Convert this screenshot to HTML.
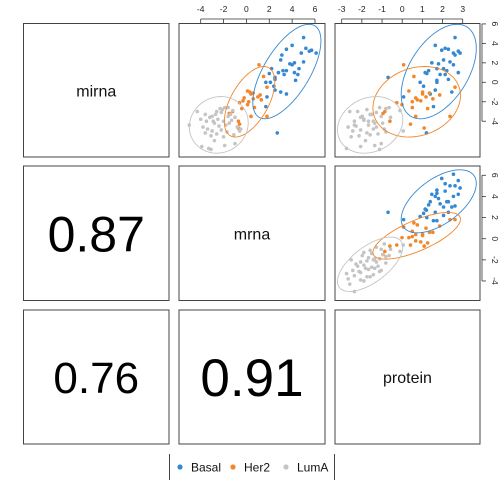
<!DOCTYPE html>
<html><head><meta charset="utf-8"><style>
body{margin:0;background:#fff}
svg{display:block;font-family:"Liberation Sans",Arial,sans-serif}
</style></head><body>
<svg id="c" width="504" height="504" viewBox="0 0 504 504"></svg>
<script>
const groups=["Basal","Her2","LumA"];
const colors=["#3589d2","#f2862a","#c4c4c4"];
const correlations=["0.87","0.76","0.91"];
const varNames=["mirna","mrna","protein"];
const mrnaTicks=[-4,-2,0,2,4,6];
const proteinTicks=[-3,-2,-1,0,1,2,3];
const yTicks=[-4,-2,0,2,4,6];
const basalMrna=[2.7,5,4,3.5,5.2,5.5,4.8,6.1,5.7,3,4.2,4.0,3.8,5,4.6,4.2,4.5,3.2,3.5,2.8,3.3,2.2,2.0,1.7,2.1,2.5,3,3.5,2.4,1.7,2.5,2.5,3.1,4.3,1.8];
const basalMirna=[-5.2,4.6,3.8,3.4,3.5,3.2,3.0,3.0,3.3,2.3,2.0,1.8,1.9,2.1,1.4,1.0,0.8,1.2,1.2,1.0,0.8,1.4,0.9,0.0,0.0,-0.8,-1.0,-1.2,-0.4,-2.5,0.5,0.3,2.8,0.2,-1.5];
const basalProtein=[1.2,2.62,1.64,2.29,2.13,2.78,2.87,2.54,1.96,2.05,1.47,2.54,1.8,2.37,1.72,2.78,2.13,1.31,2.21,1.14,1.88,2.05,1.22,1.72,0.89,1.64,2.46,1.39,1.06,1.55,-0.7,2.29,2.62,1.72,0.07];
const her2Mrna=[1.1,1.5,0.6,0.1,0.4,0.6,0.2,-0.6,-0.3,1.2,1.3,1.0,0.1,1.8,-1.2,0.4,-0.7,-0.7,-0.6,-0.4,1.8,0.7,-1.5,0.3,-0.2];
const her2Mirna=[1.8,0.6,-1.1,-0.9,-1.2,-1.7,-2.0,-2.1,-1.9,-1.3,-1.8,-1.5,-2.3,-3.5,-3.0,-3.5,-4.0,-4.7,-4.3,-2.7,-0.5,-2.6,-3.2,-1.0,-1.6];
const her2Protein=[0.07,0.58,1.35,0.33,1.01,1.52,0.5,-0.27,0.92,1.86,0.75,1.18,-0.01,2.37,-0.86,0.67,-0.61,1.09,0.41,1.26,2.62,0.5,-0.95,1.01,0.67];
const lumaMrna=[-5,-4.3,-3.6,-3.2,-3.0,-3.5,-2.8,-2.5,-2.3,-2.1,-1.9,-1.6,-1.4,-1.2,-2.6,-3.8,-3.4,-3.0,-2.6,-2.2,-1.8,-1.5,-1.3,-1.0,-0.8,-0.6,-0.5,-1.1,-2.0,-2.8,-3.9,-3.3,-3.1,-1.9,-1.0,-3.6,-2.4,-2.0,-1.6,-2.7,-3.1,-1.7,-4.0,-2.9,-2.2];
const lumaMirna=[-4.4,-3.0,-3.3,-3.6,-3.5,-4.0,-4.2,-3.8,-2.7,-2.8,-2.6,-2.6,-3.3,-2.9,-3.0,-4.6,-4.8,-5.0,-5.3,-4.9,-4.4,-4.2,-3.9,-3.6,-4.6,-5.0,-4.8,-5.4,-5.6,-6.0,-6.6,-6.8,-6.9,-6.5,-6.3,-5.2,-4.5,-4.0,-3.5,-3.3,-5.5,-5.1,-3.8,-4.0,-3.1];
const lumaProtein=[-2.37,-2.6,-1.59,-2.06,-1.04,-2.37,-1.36,-1.9,-0.81,-1.75,-1.12,-0.65,-1.51,-0.11,-2.21,-2.68,-1.43,-2.45,-1.2,-2.06,-1.67,-0.97,-1.9,-0.58,-1.28,0.05,-0.89,-1.59,-2.53,-1.82,-2.06,-2.76,-1.12,-1.36,-1.04,-1.75,-2.29,-1.43,-1.98,-1.51,-2.14,-0.81,-1.9,-1.67,-1.28];
const groupVars=[
 {mrna:basalMrna,mirna:basalMirna,protein:basalProtein},
 {mrna:her2Mrna,mirna:her2Mirna,protein:her2Protein},
 {mrna:lumaMrna,mirna:lumaMirna,protein:lumaProtein}];

const NS="http://www.w3.org/2000/svg";
const svg=document.getElementById('c');
function mk(tag,attrs,parent){const e=document.createElementNS(NS,tag);for(const k in attrs)e.setAttribute(k,attrs[k]);(parent||svg).appendChild(e);return e;}
const colX=[[23.5,169],[179,325],[335,480]];
const rowY=[[23.5,157],[166,300.5],[310,444]];
const xMrna=v=>200.7+(v+4)*11.43;
const xProt=v=>402.2+v*20.17;
const yMirnaR1=v=>82.3-v*9.73;
const yMrnaR2=v=>238.7-v*10.57;

for(let r=0;r<3;r++)for(let c=0;c<3;c++){
  const f=mk('rect',{x:colX[c][0],y:rowY[r][0],width:colX[c][1]-colX[c][0],height:rowY[r][1]-rowY[r][0],fill:'none',stroke:'#444','stroke-width':1});
  
  
}
for(let i=0;i<3;i++){
  const t=mk('text',{x:(colX[i][0]+colX[i][1])/2,y:(rowY[i][0]+rowY[i][1])/2+6,'text-anchor':'middle','font-size':16,fill:'#111'});
  t.textContent=varNames[i];
  
  
}
const corrPos=[[1,0,50],[2,0,44],[2,1,53]];
corrPos.forEach((p,i)=>{
  const t=mk('text',{x:(colX[p[1]][0]+colX[p[1]][1])/2,y:(rowY[p[0]][0]+rowY[p[0]][1])/2+p[2]*0.36,'text-anchor':'middle','font-size':p[2],fill:'#000'});
  t.textContent=correlations[i];
  
  
});

const panels=[
 {xv:'mrna',yv:'mirna',sx:xMrna,sy:yMirnaR1,c:1,r:0,name:'mrna-vs-mirna'},
 {xv:'protein',yv:'mirna',sx:xProt,sy:yMirnaR1,c:2,r:0,name:'protein-vs-mirna'},
 {xv:'protein',yv:'mrna',sx:xProt,sy:yMrnaR2,c:2,r:1,name:'protein-vs-mrna'}
];
panels.forEach((P,pi)=>{
  const cp=mk('clipPath',{id:'cp'+pi});
  mk('rect',{x:colX[P.c][0],y:rowY[P.r][0],width:colX[P.c][1]-colX[P.c][0],height:rowY[P.r][1]-rowY[P.r][0]},cp);
  const g=mk('g',{'clip-path':'url(#cp'+pi+')'});
  
  
  groupVars.forEach((d,gi)=>{
    const xs=d[P.xv],ys=d[P.yv];
    xs.forEach((xv,k)=>{
      const pt=mk('circle',{cx:P.sx(xv),cy:P.sy(ys[k]),r:1.8,fill:colors[gi]},g);
      
      
    });
  });
  groupVars.forEach((d,gi)=>{
    const xs=d[P.xv],ys=d[P.yv],n=xs.length;let mx=0,my=0;
    for(let k=0;k<n;k++){mx+=xs[k];my+=ys[k];}mx/=n;my/=n;
    let sxx=0,syy=0,sxy=0;
    for(let k=0;k<n;k++){const a=xs[k]-mx,b=ys[k]-my;sxx+=a*a;syy+=b*b;sxy+=a*b;}
    sxx/=n-1;syy/=n-1;sxy/=n-1;
    const l11=Math.sqrt(sxx),l21=sxy/l11,l22=Math.sqrt(Math.max(syy-l21*l21,1e-9));
    const k=Math.sqrt(5.991);let dstr='';
    for(let i=0;i<=72;i++){const t=i/72*2*Math.PI,u=Math.cos(t)*k,v=Math.sin(t)*k;
      const x=mx+l11*u,y=my+l21*u+l22*v;
      dstr+=(i?'L':'M')+P.sx(x).toFixed(2)+','+P.sy(y).toFixed(2);}
    const e=mk('path',{d:dstr,fill:'none',stroke:colors[gi],'stroke-width':0.9},g);
    
    
  });
});

function topAxis(ticks,sc,name){
  const g=mk('g',{});
  
  
  mk('line',{x1:sc(ticks[0]),x2:sc(ticks[ticks.length-1]),y1:19,y2:19,stroke:'#333','stroke-width':0.8},g);
  ticks.forEach(t=>{
    mk('line',{x1:sc(t),x2:sc(t),y1:19,y2:23,stroke:'#333','stroke-width':0.8},g);
    const tx=mk('text',{x:sc(t),y:12,'text-anchor':'middle','font-size':8.5,fill:'#222'},g);tx.textContent=t;
  });
}
topAxis(mrnaTicks,xMrna,'x-axis-mrna');
topAxis(proteinTicks,xProt,'x-axis-protein');
function rightAxis(ticks,sc,name){
  const g=mk('g',{});
  
  
  mk('line',{x1:482,x2:482,y1:sc(ticks[0]),y2:sc(ticks[ticks.length-1]),stroke:'#333','stroke-width':0.8},g);
  ticks.forEach(t=>{
    const y=sc(t);
    mk('line',{x1:482,x2:486,y1:y,y2:y,stroke:'#333','stroke-width':0.8},g);
    const tx=mk('text',{x:492,y:y,'text-anchor':'middle','font-size':8.5,fill:'#222',transform:'rotate(90 492 '+y+')'},g);tx.textContent=t;
  });
}
rightAxis(yTicks,yMirnaR1,'y-axis-mirna');
rightAxis(yTicks,yMrnaR2,'y-axis-mrna');

const lg=mk('g',{});


mk('line',{x1:169.5,x2:169.5,y1:454,y2:480,stroke:'#444'},lg);
mk('line',{x1:334.5,x2:334.5,y1:454,y2:480,stroke:'#444'},lg);
const lx=[180,233,286];
groups.forEach((gname,i)=>{
  const c=mk('circle',{cx:lx[i],cy:467,r:2.6,fill:colors[i]},lg);
  
  
  const t=mk('text',{x:lx[i]+11,y:471.5,'font-size':12,fill:'#111'},lg);t.textContent=gname;
  
  
});
</script>
</body></html>
